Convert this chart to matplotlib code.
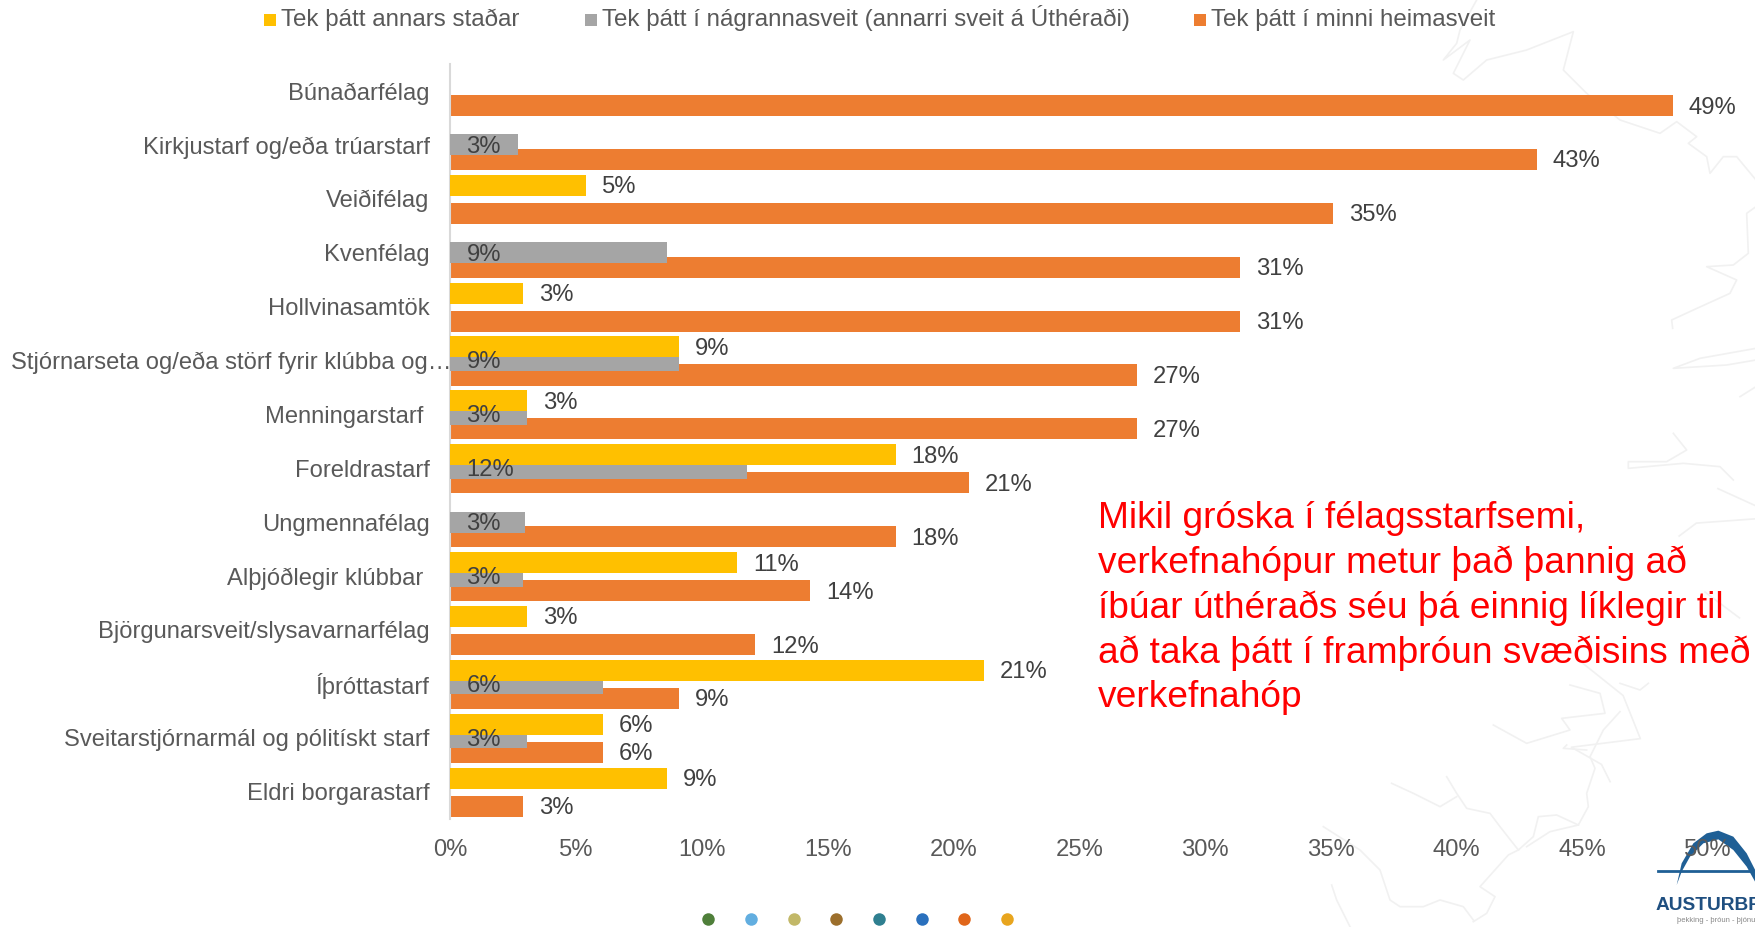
#!/usr/bin/env python3
import matplotlib
matplotlib.use("Agg")
import matplotlib.pyplot as plt
from matplotlib.patches import Polygon, Rectangle

categorias = ["Búnaðarfélag", "Kirkjustarf og/eða trúarstarf", "Veiðifélag", "Kvenfélag", "Hollvinasamtök",
              "Stjórnarseta og/eða störf fyrir klúbba og…", "Menningarstarf ", "Foreldrastarf", "Ungmennafélag",
              "Alþjóðlegir klúbbar ", "Björgunarsveit/slysavarnarfélag", "Íþróttastarf",
              "Sveitarstjórnarmál og pólitískt starf", "Eldri borgarastarf"]
annars_stadar = [0, 0, 5.4, 0, 2.9, 9.1, 3.05, 17.7, 0, 11.4, 3.05, 21.2, 6.05, 8.6]
nagrannasveit = [0, 2.7, 0, 8.6, 0, 9.1, 3.05, 11.8, 2.95, 2.9, 0, 6.05, 3.05, 0]
heimasveit = [48.6, 43.2, 35.1, 31.4, 31.4, 27.3, 27.3, 20.6, 17.7, 14.3, 12.1, 9.1, 6.05, 2.9]
xticks = [0, 5, 10, 15, 20, 25, 30, 35, 40, 45, 50]
punktar = ["#4f7f3a", "#62aee0", "#c2b868", "#9c6f2c", "#2f7f90", "#2a70bd", "#e0661a", "#e8a51e"]
texti = ["Mikil gróska í félagsstarfsemi,", "verkefnahópur metur það þannig að", "íbúar úthéraðs séu þá einnig líklegir til",
         "að taka þátt í framþróun svæðisins með", "verkefnahóp"]

GULT, GRATT, APPELSINA = "#ffc000", "#a5a5a5", "#ed7d31"
TXT = "#595959"
KORT = "#f1f1f1"
W, H = 1756, 927

plt.rcParams["font.family"] = ["Liberation Sans", "DejaVu Sans"]
fig = plt.figure(figsize=(W / 100, H / 100), dpi=100)

# heildarmynd i pixlum fyrir skraut og texta
bg = fig.add_axes([0, 0, 1, 1], zorder=0)
bg.set_xlim(0, W)
bg.set_ylim(H, 0)
bg.axis("off")

# dauft kort i bakgrunni, rakid i 3x stakki
kort_efra = [
    [(530, 0), (480, 90), (470, 130), (430, 180), (510, 120), (460, 220), (490, 240), (560, 180), (680, 150),
     (820, 95), (790, 210), (860, 280), (960, 360), (1080, 400), (1130, 365), (1190, 410), (1165, 430), (1220, 470),
     (1230, 520), (1270, 470), (1310, 470), (1368, 540)],
    [(1368, 620), (1340, 640), (1345, 760), (1300, 795), (1220, 800), (1310, 840), (1290, 880), (1180, 930),
     (1115, 960), (1118, 985)],
    [(1368, 1045), (1200, 1075), (1120, 1105), (1280, 1095), (1368, 1080)],
    [(1120, 1300), (1160, 1350), (1100, 1385), (985, 1385), (985, 1405), (1150, 1390), (1260, 1400), (1300, 1440)],
    [(1320, 1190), (1368, 1160)],
]
kort_nedra = [
    [(810, 15), (900, 40), (915, 100), (785, 115), (810, 150), (680, 190), (580, 135)],
    [(960, 95), (910, 150), (870, 230), (885, 265), (860, 340), (865, 380), (835, 435), (770, 405), (715, 410),
     (700, 470), (655, 510), (600, 440), (570, 400), (500, 385), (470, 340), (440, 290)],
    [(470, 350), (420, 380), (340, 340), (275, 310)],
    [(835, 435), (750, 455), (680, 500)],
    [(655, 510), (625, 525), (540, 620), (585, 650), (560, 700), (520, 725)],
    [(70, 440), (180, 510), (240, 570), (270, 660), (300, 680), (370, 680), (420, 660), (490, 680), (520, 720)],
    [(95, 615), (110, 660), (150, 740)],
    [(1045, 10), (1020, 30), (960, 10)],
    [(800, 195), (790, 205), (860, 210)],
]
kort_mid = [
    [(1480, 20), (1568, 60)],
    [(1390, 130), (1430, 100), (1568, 90)],
    [(1450, 260), (1530, 320)],
    [(1160, 420), (1260, 500), (1300, 600), (1140, 620), (1210, 660), (1230, 700)],
]
for k in kort_efra:
    bg.plot([1300 + p[0] / 3 for p in k], [p[1] / 3 for p in k], color=KORT, lw=1.2)
for k in kort_nedra:
    bg.plot([1300 + p[0] / 3 for p in k], [680 + p[1] / 3 for p in k], color=KORT, lw=1.2)
for k in kort_mid:
    bg.plot([1080 + p[0] / 2.32 for p in k], [480 + p[1] / 2.32 for p in k], color=KORT, lw=1.2)

ax = fig.add_axes([450.5 / W, 1 - (64 + 754.6) / H, (1708 - 450.5) / W, 754.6 / H], zorder=1)
ax.patch.set_alpha(0)
y = range(len(categorias))
ax.barh([i + 0.27 for i in y], heimasveit, 0.39, color=APPELSINA, zorder=2)
ax.barh(list(y), nagrannasveit, 0.39, color=GRATT, zorder=3)
ax.barh([i - 0.25 for i in y], annars_stadar, 0.39, color=GULT, zorder=4)

ax.set_xlim(0, 50)
ax.set_ylim(13.5, -0.5)
ax.set_yticks(list(y), categorias)
ax.set_xticks(xticks, [f"{t}%" for t in xticks])
ax.tick_params(axis="both", length=0, labelsize=17.1, labelcolor=TXT)
ax.tick_params(axis="y", pad=15)
ax.tick_params(axis="x", pad=14.5)
# lengsti merkimidinn nær alveg ad asnum
ax.yaxis.get_major_ticks()[5].set_pad(-1)
for s in ["top", "right", "bottom"]:
    ax.spines[s].set_visible(False)
ax.spines["left"].set_color("#d9d9d9")
ax.spines["left"].set_linewidth(1.5)

for i in y:
    if heimasveit[i]:
        ax.annotate(f"{heimasveit[i]:.0f}%", (heimasveit[i], i + 0.27), xytext=(16, -2), textcoords="offset pixels",
                    va="center", fontsize=17.1, color="#404040", zorder=6)
    if annars_stadar[i]:
        ax.annotate(f"{annars_stadar[i]:.0f}%", (annars_stadar[i], i - 0.25), xytext=(16, -2), textcoords="offset pixels",
                    va="center", fontsize=17.1, color="#404040", zorder=6)
    if nagrannasveit[i]:
        ax.annotate(f"{nagrannasveit[i]:.0f}%", (0, i), xytext=(16, -2), textcoords="offset pixels",
                    va="center", fontsize=17.1, color="#404040", zorder=6)

# skyringar efst
for x0, litur, merki in [(264, GULT, "Tek þátt annars staðar"),
                         (585, GRATT, "Tek þátt í nágrannasveit (annarri sveit á Úthéraði)"),
                         (1194, APPELSINA, "Tek þátt í minni heimasveit")]:
    bg.add_patch(Rectangle((x0, 13.5), 12.5, 12.5, color=litur, lw=0))
    bg.text(x0 + 17, 26, merki, fontsize=17.35, color=TXT, va="baseline")

for n, lina in enumerate(texti):
    bg.text(1098, 518.5 + n * 44.8, lina, fontsize=26.7, color="#ff0000", va="center")

for n, litur in enumerate(punktar):
    bg.plot(708.5 + n * 42.65, 918.5, "o", ms=9, color=litur, mew=0)

# merki Austurbru
boga = [(1130, 615), (1145, 550), (1180, 490), (1220, 460), (1255, 452), (1300, 470), (1340, 520), (1368, 575),
        (1368, 610), (1340, 560), (1300, 510), (1255, 478), (1210, 490), (1170, 530), (1145, 575)]
bg.add_patch(Polygon([(1300 + p[0] / 3, 680 + p[1] / 3) for p in boga], color="#1f5f95", lw=0))
bg.plot([1658, 1756], [871, 871], color="#1f5f95", lw=2)
bg.text(1656, 906, "AUSTURBRÚ", fontsize=13.8, fontweight="bold", color="#1f4f80", va="center", clip_on=True)
bg.text(1677, 921, "þekking - þróun - þjónusta", fontsize=5.5, color="#888888", va="center", clip_on=True)

fig.savefig("out.png", dpi=100)
